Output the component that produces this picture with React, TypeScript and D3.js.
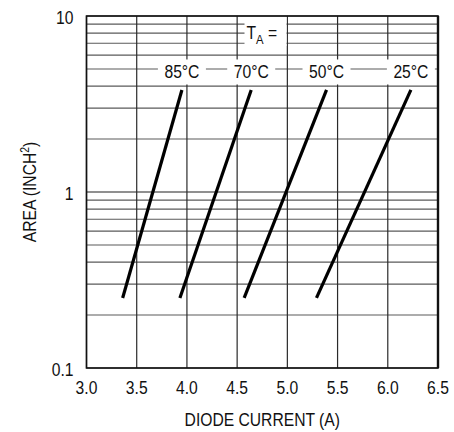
import { useEffect, useRef } from "react";
import * as d3 from "d3";

// x axis: diode current (A), y axis: area (inch^2), log
const xTicks = [3.0, 3.5, 4.0, 4.5, 5.0, 5.5, 6.0, 6.5];
const yTicks = [0.1, 1, 10];
const temps = ["85°C", "70°C", "50°C", "25°C"];
// each curve is a straight line on the log plot, from areaEnds[0] to areaEnds[1]
const currentLow = [3.36, 3.93, 4.57, 5.29];
const currentHigh = [3.95, 4.64, 5.39, 6.23];
const areaEnds = [0.25, 3.8];
const labelRowArea = 5;

const FONT = "'Liberation Sans', Arial, Helvetica, sans-serif";
// the original uses a condensed face; squeeze the regular one
const SQ = "scale(0.87,1)";

export default function App() {
  const svgRef = useRef<SVGSVGElement>(null);
  const width = 454;
  const height = 432;

  useEffect(() => {
    if (!svgRef.current) return;
    const svg = d3.select(svgRef.current);
    svg.selectAll("*").remove();

    const margin = { top: 16, right: 16, bottom: 64, left: 86.5 };
    const innerWidth = width - margin.left - margin.right;
    const innerHeight = height - margin.top - margin.bottom;

    const x = d3.scaleLinear().domain([3.0, 6.5]).range([0, innerWidth]);
    const y = d3.scaleLog().domain([0.1, 10]).range([innerHeight, 0]);

    const g = svg
      .append("g")
      .attr("transform", `translate(${margin.left},${margin.top})`)
      .style("font-family", FONT)
      .style("font-size", "18px");

    // grid
    g.append("g")
      .selectAll("line")
      .data(y.ticks())
      .enter()
      .append("line")
      .attr("x1", 0)
      .attr("x2", innerWidth)
      .attr("y1", (d) => y(d))
      .attr("y2", (d) => y(d))
      .attr("stroke", (d) => (d === 1 ? "#222" : "#5a5a5a"))
      .attr("stroke-width", 1.2);

    g.append("g")
      .selectAll("line")
      .data(xTicks)
      .enter()
      .append("line")
      .attr("x1", (d) => x(d))
      .attr("x2", (d) => x(d))
      .attr("y1", 0)
      .attr("y2", innerHeight)
      .attr("stroke", "#2a2a2a")
      .attr("stroke-width", 1.2);

    // curves
    const line = d3
      .line<[number, number]>()
      .x((d) => x(d[0]))
      .y((d) => y(d[1]));

    g.append("g")
      .selectAll("path")
      .data(temps.map((_t, i) => [
        [currentLow[i], areaEnds[0]],
        [currentHigh[i], areaEnds[1]],
      ] as [number, number][]))
      .enter()
      .append("path")
      .attr("d", (d) => line(d) || "")
      .attr("fill", "none")
      .attr("stroke", "#000")
      .attr("stroke-width", 3.2);

    // T_A = box
    g.append("rect")
      .attr("x", 158)
      .attr("y", 1)
      .attr("width", 42)
      .attr("height", 29)
      .attr("fill", "#fff");
    const ta = g
      .append("text")
      .attr("transform", `translate(160,22.5) ${SQ}`)
      .attr("fill", "#111");
    ta.append("tspan").text("T");
    ta.append("tspan").attr("dy", 5).style("font-size", "13px").text("A");
    ta.append("tspan").attr("dy", -5).text(" =");

    // temperature labels on the label row
    const rowY = y(labelRowArea);
    const labels = g
      .append("g")
      .selectAll("g")
      .data(temps)
      .enter()
      .append("g")
      .attr("transform", (_d, i) => `translate(${x(currentHigh[i])},${rowY + 3})`);
    labels
      .append("rect")
      .attr("x", -24)
      .attr("y", -12.5)
      .attr("width", 48)
      .attr("height", 25)
      .attr("fill", "#fff");
    labels
      .append("text")
      .attr("transform", SQ)
      .attr("text-anchor", "middle")
      .attr("dy", "0.36em")
      .attr("fill", "#111")
      .text((d) => d);

    // frame
    g.append("rect")
      .attr("x", 0)
      .attr("y", 0)
      .attr("width", innerWidth)
      .attr("height", innerHeight)
      .attr("fill", "none")
      .attr("stroke", "#111")
      .attr("stroke-width", 1.6);
    g.append("line")
      .attr("x1", innerWidth)
      .attr("x2", innerWidth)
      .attr("y1", 0)
      .attr("y2", innerHeight)
      .attr("stroke", "#111")
      .attr("stroke-width", 2.4);

    // tick labels
    g.append("g")
      .selectAll("text")
      .data(xTicks)
      .enter()
      .append("text")
      .attr("transform", (d) => `translate(${x(d)},${innerHeight + 26}) ${SQ}`)
      .attr("text-anchor", "middle")
      .attr("fill", "#111")
      .text((d) => d.toFixed(1));

    g.append("g")
      .selectAll("text")
      .data(yTicks)
      .enter()
      .append("text")
      .attr("transform", (d) => `translate(-13,${y(d) + 2}) ${SQ}`)
      .attr("dy", "0.35em")
      .attr("text-anchor", "end")
      .attr("fill", "#111")
      .text((d) => String(d));

    // axis titles
    g.append("text")
      .attr("transform", `translate(${innerWidth / 2},${innerHeight + 58}) ${SQ}`)
      .attr("text-anchor", "middle")
      .attr("fill", "#111")
      .text("DIODE CURRENT (A)");

    const yt = g
      .append("text")
      .attr("transform", `translate(-51,${innerHeight / 2}) rotate(-90) ${SQ}`)
      .attr("text-anchor", "middle")
      .attr("fill", "#111");
    yt.append("tspan").text("AREA (INCH");
    yt.append("tspan").attr("dy", -7).style("font-size", "12px").text("2");
    yt.append("tspan").attr("dy", 7).text(")");
  }, []);

  return (
    <svg
      ref={svgRef}
      width={width}
      height={height}
      viewBox={`0 0 ${width} ${height}`}
      style={{ position: "absolute", left: 0, top: 0, background: "#fff" }}
    />
  );
}
